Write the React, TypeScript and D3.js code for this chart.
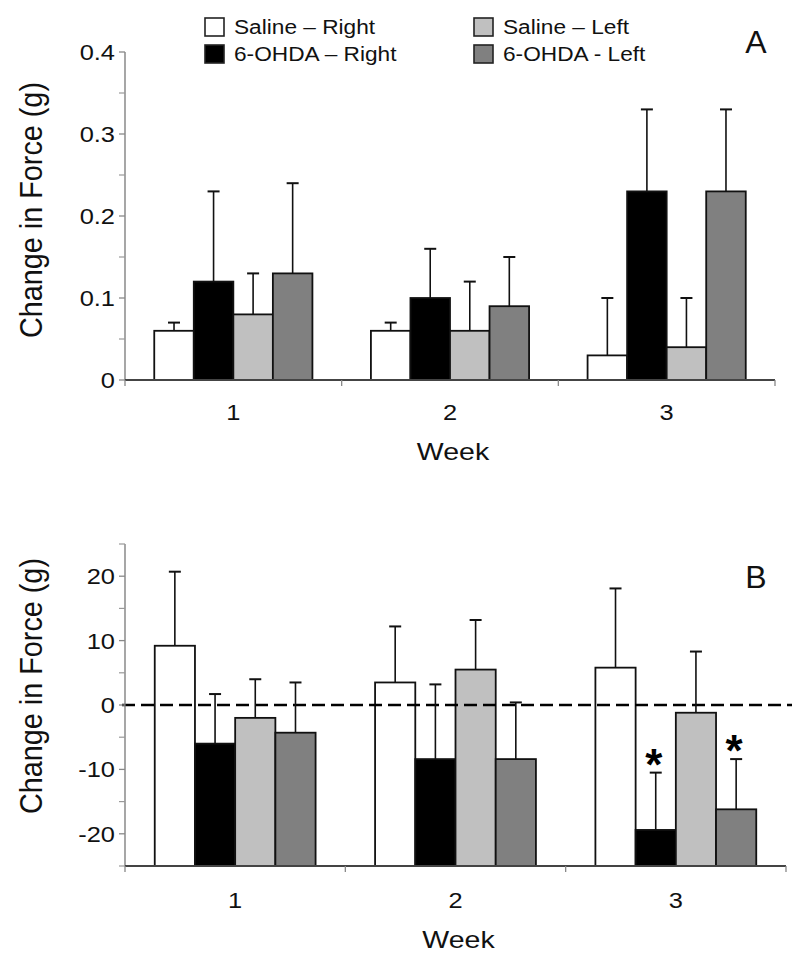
import React from 'react';
import * as d3 from 'd3';

const weeks = ['1', '2', '3'];
const seriesNames = ['Saline – Right', '6-OHDA – Right', 'Saline – Left', '6-OHDA - Left'];
const seriesColors = ['#ffffff', '#000000', '#c0c0c0', '#808080'];

// Panel A: change in force (g)
const salineRightA = [0.06, 0.06, 0.03];
const ohdaRightA = [0.12, 0.10, 0.23];
const salineLeftA = [0.08, 0.06, 0.04];
const ohdaLeftA = [0.13, 0.09, 0.23];
const salineRightErrA = [0.01, 0.01, 0.07];
const ohdaRightErrA = [0.11, 0.06, 0.10];
const salineLeftErrA = [0.05, 0.06, 0.06];
const ohdaLeftErrA = [0.11, 0.06, 0.10];

// Panel B: change in force (g)
const salineRightB = [9.2, 3.5, 5.8];
const ohdaRightB = [-6.0, -8.4, -19.4];
const salineLeftB = [-2.0, 5.5, -1.2];
const ohdaLeftB = [-4.3, -8.4, -16.2];
const salineRightErrB = [11.5, 8.7, 12.3];
const ohdaRightErrB = [7.7, 11.6, 8.9];
const salineLeftErrB = [6.0, 7.7, 9.5];
const ohdaLeftErrB = [7.8, 8.8, 7.8];

// significance markers for panel B: [week index, series index]
const sigB = [[2, 1], [2, 3]];

const ticksA = [0, 0.1, 0.2, 0.3, 0.4];
const minorTicksA = [0.05, 0.15, 0.25, 0.35];
const ticksB = [-20, -10, 0, 10, 20];
const minorTicksB = [-25, -15, -5, 5, 15, 25];

const FONT = '"Liberation Sans", Arial, Helvetica, sans-serif';

type PanelProps = {
  values: number[][];
  errors: number[][];
  domain: [number, number];
  yRange: [number, number];
  xRange: [number, number];
  ticks: number[];
  minorTicks: number[];
  fmt: (v: number) => string;
  letter: string;
  letterY: number;
  zeroLine?: boolean;
  sig?: number[][];
  tickLabelY: number;
  weekY: number;
  yLabelY: number;
};

function Panel(p: PanelProps) {
  const y = d3.scaleLinear().domain(p.domain).range(p.yRange);
  const x = d3.scaleBand<string>().domain(weeks).range(p.xRange).paddingInner(0.27).paddingOuter(0.135);
  const xs = d3.scaleBand<string>().domain(seriesNames).range([0, x.bandwidth()]).padding(0);
  const base = y(p.domain[0]);
  const axisX = p.xRange[0];
  const step = x.step();
  const boundaries = [0, 1, 2, 3].map((i) => p.xRange[0] + i * step);
  const capW = 12;
  const yTop = y(p.domain[1]);
  return (
    <g>
      {/* bars */}
      {weeks.map((w, wi) =>
        seriesNames.map((s, si) => {
          const v = p.values[si][wi];
          const bx = (x(w) as number) + (xs(s) as number);
          return (
            <rect
              key={w + s}
              x={bx}
              y={Math.min(y(v), base)}
              width={xs.bandwidth()}
              height={Math.abs(base - y(v))}
              fill={seriesColors[si]}
              stroke="#111"
              strokeWidth={1.8}
            />
          );
        })
      )}
      {/* zero dashed line */}
      {p.zeroLine && (
        <line x1={axisX - 3} x2={p.xRange[1] + 6} y1={y(0)} y2={y(0)} stroke="#000" strokeWidth={2.5} strokeDasharray="13,6" />
      )}
      {/* error bars */}
      {weeks.map((w, wi) =>
        seriesNames.map((s, si) => {
          const v = p.values[si][wi];
          const e = p.errors[si][wi];
          const cx = (x(w) as number) + (xs(s) as number) + xs.bandwidth() / 2;
          return (
            <g key={'e' + w + s} stroke="#111" strokeWidth={1.6}>
              <line x1={cx} x2={cx} y1={y(v)} y2={y(v + e)} />
              <line x1={cx - capW / 2} x2={cx + capW / 2} y1={y(v + e)} y2={y(v + e)} strokeWidth={2} />
            </g>
          );
        })
      )}
      {/* significance */}
      {p.sig &&
        p.sig.map(([wi, si], i) => {
          const w = weeks[wi];
          const s = seriesNames[si];
          const cx = (x(w) as number) + (xs(s) as number) + xs.bandwidth() / 2;
          const top = y(p.values[si][wi] + p.errors[si][wi]);
          return (
            <text key={'sig' + i} x={cx - 2} y={top + 7} textAnchor="middle" fontFamily={FONT} fontWeight="bold" fontSize={44}>
              *
            </text>
          );
        })}
      {/* y axis */}
      <line x1={axisX} x2={axisX} y1={yTop} y2={base} stroke="#777" strokeWidth={1.3} />
      {p.ticks.map((t) => (
        <g key={'t' + t}>
          <line x1={axisX - 6} x2={axisX} y1={y(t)} y2={y(t)} stroke="#888" strokeWidth={1.3} />
          <text
            transform={`translate(${axisX - 10},${y(t) + 8}) scale(1.13,1)`}
            textAnchor="end"
            fontFamily={FONT}
            fontSize={22.5}
            fill="#111"
          >
            {p.fmt(t)}
          </text>
        </g>
      ))}
      {p.minorTicks.map((t) => (
        <line key={'m' + t} x1={axisX - 6} x2={axisX} y1={y(t)} y2={y(t)} stroke="#999" strokeWidth={1.2} />
      ))}
      {/* x axis */}
      <line x1={p.xRange[0]} x2={p.xRange[1]} y1={base} y2={base} stroke="#444" strokeWidth={2} />
      {boundaries.map((bx, i) => (
        <line key={'b' + i} x1={bx} x2={bx} y1={base} y2={base + 6} stroke="#888" strokeWidth={1.3} />
      ))}
      {weeks.map((w) => (
        <text
          key={'xl' + w}
          transform={`translate(${(x(w) as number) + x.bandwidth() / 2},${p.tickLabelY}) scale(1.13,1)`}
          textAnchor="middle"
          fontFamily={FONT}
          fontSize={22.5}
          fill="#111"
        >
          {w}
        </text>
      ))}
      <text
        transform={`translate(${(p.xRange[0] + p.xRange[1]) / 2 + 3},${p.weekY}) scale(1.24,1)`}
        textAnchor="middle"
        fontFamily={FONT}
        fontSize={23}
        fill="#111"
      >
        Week
      </text>
      <text
        transform={`translate(${42},${p.yLabelY}) rotate(-90) scale(1,1.06)`}
        textAnchor="middle"
        fontFamily={FONT}
        fontSize={28.8}
        fill="#111"
      >
        Change in Force (g)
      </text>
      <text x={756} y={p.letterY} textAnchor="middle" fontFamily={FONT} fontSize={32} fill="#111">
        {p.letter}
      </text>
    </g>
  );
}

function Legend() {
  const cols = [205, 474];
  const rows = [18, 45];
  const layout = [
    { si: 0, c: 0, r: 0 },
    { si: 1, c: 0, r: 1 },
    { si: 2, c: 1, r: 0 },
    { si: 3, c: 1, r: 1 },
  ];
  return (
    <g>
      {layout.map(({ si, c, r }) => (
        <g key={si}>
          <rect x={cols[c]} y={rows[r]} width={19} height={18} fill={seriesColors[si]} stroke="#222" strokeWidth={1.6} />
          <text
            transform={`translate(${cols[c] + 29},${rows[r] + 16}) scale(1.08,1)`}
            fontFamily={FONT}
            fontSize={21}
            fill="#111"
          >
            {seriesNames[si]}
          </text>
        </g>
      ))}
    </g>
  );
}

export default function App() {
  const valuesA = [salineRightA, ohdaRightA, salineLeftA, ohdaLeftA];
  const errorsA = [salineRightErrA, ohdaRightErrA, salineLeftErrA, ohdaLeftErrA];
  const valuesB = [salineRightB, ohdaRightB, salineLeftB, ohdaLeftB];
  const errorsB = [salineRightErrB, ohdaRightErrB, salineLeftErrB, ohdaLeftErrB];
  return (
    <svg
      width={803}
      height={962}
      style={{ position: 'absolute', left: 0, top: 0, background: '#fff' }}
    >
      <rect x={0} y={0} width={803} height={962} fill="#fff" />
      <Legend />
      <Panel
        values={valuesA}
        errors={errorsA}
        domain={[0, 0.4]}
        yRange={[380, 52]}
        xRange={[125, 775]}
        ticks={ticksA}
        minorTicks={minorTicksA}
        fmt={(v) => String(+v.toFixed(1))}
        letter="A"
        letterY={53}
        tickLabelY={420}
        weekY={460}
        yLabelY={210}
      />
      <Panel
        values={valuesB}
        errors={errorsB}
        domain={[-25, 25]}
        yRange={[866, 544]}
        xRange={[125, 786]}
        ticks={ticksB}
        minorTicks={minorTicksB}
        fmt={(v) => String(v)}
        letter="B"
        letterY={588}
        zeroLine
        sig={sigB}
        tickLabelY={908}
        weekY={948}
        yLabelY={686}
      />
    </svg>
  );
}
